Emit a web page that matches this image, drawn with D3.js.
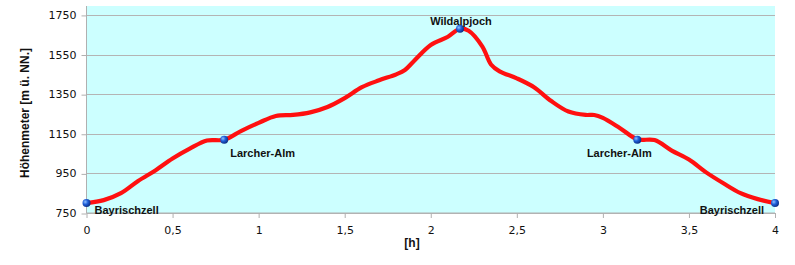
<!DOCTYPE html>
<html><head><meta charset="utf-8">
<script src="https://cdn.jsdelivr.net/npm/d3@7"></script>
<style>body{margin:0;background:#fff}svg{display:block}</style>
</head><body><svg id="c" width="795" height="265"></svg>
<script>
const hours = [0,0.1,0.2,0.3,0.4,0.5,0.6,0.7,0.8,0.9,1.0,1.1,1.2,1.3,1.4,1.5,1.6,1.7,1.8,1.85,1.9,2.0,2.1,2.17,2.22,2.3,2.35,2.4,2.5,2.6,2.7,2.8,2.9,2.95,3.0,3.1,3.2,3.3,3.4,3.5,3.6,3.7,3.8,3.9,4.0];
const elevation = [800,815,850,912,965,1025,1075,1116,1120,1165,1205,1240,1245,1258,1285,1330,1385,1420,1450,1472,1515,1598,1640,1680,1670,1590,1500,1465,1430,1385,1315,1262,1245,1245,1230,1178,1122,1118,1065,1020,955,900,850,820,800];
const placeNames = ["Bayrischzell","Larcher-Alm","Wildalpjoch","Larcher-Alm","Bayrischzell"];
const placeHours = [0,0.8,2.17,3.2,4.0];
const placeElev = [800,1120,1680,1120,800];
const yTicks = [750,950,1150,1350,1550,1750];
const xTicks = [0,0.5,1,1.5,2,2.5,3,3.5,4];
const yTitle = "Höhenmeter [m ü. NN.]";
const xTitle = "[h]";

const svg = d3.select("#c");
const L = 86.5, R = 775, T = 6, B = 213;
const x = d3.scaleLinear().domain([0,4]).range([L,R]);
const y = d3.scaleLinear().domain([750,1795]).range([B,T]);
const fmt = d => String(d).replace(".", ",");

svg.append("rect").attr("x",L).attr("y",T).attr("width",R-L).attr("height",B-T).attr("fill","#ccffff");
svg.append("g").selectAll("line").data(yTicks).join("line")
  .attr("x1",L).attr("x2",R).attr("y1",d=>Math.round(y(d))+0.5).attr("y2",d=>Math.round(y(d))+0.5)
  .attr("stroke","#b4b4b4").attr("stroke-width",1);

const yAxis = svg.append("g").attr("transform",`translate(${L},0)`)
  .call(d3.axisLeft(y).tickValues(yTicks).tickSize(5).tickPadding(5).tickFormat(d=>d));
yAxis.select(".domain").attr("d",`M0,${T}V${B}`);
const xAxis = svg.append("g").attr("transform",`translate(0,${B})`)
  .call(d3.axisBottom(x).tickValues(xTicks).tickSize(5).tickPadding(8).tickFormat(fmt));
xAxis.select(".domain").attr("d",`M${L},0H${R}`);
svg.selectAll(".domain, .tick line").attr("stroke","#b0b0b0").attr("stroke-width",1);
svg.selectAll(".tick text").attr("font-family","DejaVu Sans, sans-serif").attr("font-size",11).attr("fill","#111");
yAxis.selectAll(".tick line").attr("transform","translate(0,0.5)");

svg.append("text").attr("transform","translate(29,113) rotate(-90)").attr("text-anchor","middle")
  .attr("font-family","Liberation Sans, Arial, sans-serif").attr("font-weight","bold").attr("font-size",12)
  .attr("fill","#111").text(yTitle);
svg.append("text").attr("x",412).attr("y",247).attr("text-anchor","middle")
  .attr("font-family","Liberation Sans, Arial, sans-serif").attr("font-weight","bold").attr("font-size",12)
  .attr("fill","#111").text(xTitle);

const data = hours.map((h,i)=>[h,elevation[i]]);
svg.append("path").datum(data)
  .attr("d", d3.line().x(d=>x(d[0])).y(d=>y(d[1])).curve(d3.curveCatmullRom.alpha(0.5)))
  .attr("fill","none").attr("stroke","#ff1010").attr("stroke-width",4.2).attr("stroke-linejoin","round").attr("stroke-linecap","round");

const defs = svg.append("defs");
const g = defs.append("radialGradient").attr("id","ball").attr("cx","35%").attr("cy","35%").attr("r","70%");
g.append("stop").attr("offset","0%").attr("stop-color","#8fc0ff");
g.append("stop").attr("offset","45%").attr("stop-color","#1f5fd8");
g.append("stop").attr("offset","100%").attr("stop-color","#0a2a80");
const places = placeNames.map((n,i)=>({n, h:placeHours[i], e:placeElev[i], i}));
svg.append("g").selectAll("circle").data(places).join("circle")
  .attr("cx",d=>x(d.h)).attr("cy",d=>y(d.e)).attr("r",4).attr("fill","url(#ball)");

const lab = [[8,11,"start"],[6,17,"start"],[1,-4,"middle"],[-18,17,"middle"],[-11,11,"end"]];
svg.append("g").selectAll("text").data(places).join("text")
  .attr("x",d=>x(d.h)+lab[d.i][0]).attr("y",d=>y(d.e)+lab[d.i][1]).attr("text-anchor",d=>lab[d.i][2])
  .attr("font-family","Liberation Sans, Arial, sans-serif").attr("font-weight","bold").attr("font-size",11)
  .attr("fill","#111").text(d=>d.n);
</script></body></html>
